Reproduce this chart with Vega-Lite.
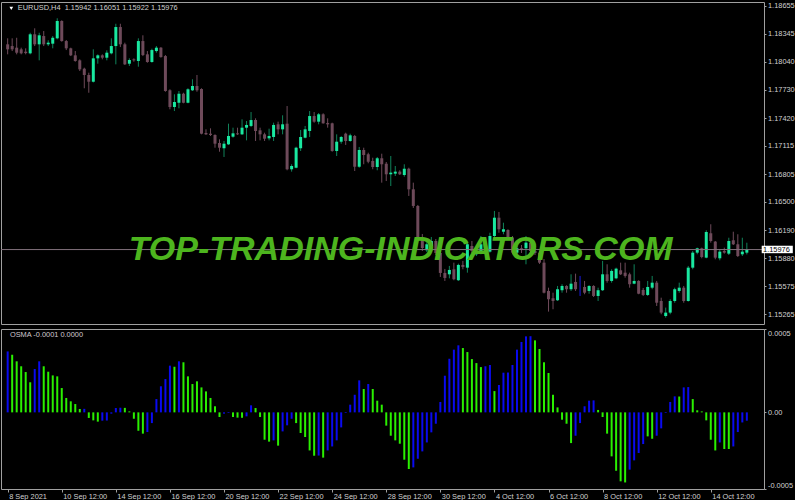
{
"$schema": "https://vega.github.io/schema/vega-lite/v6.json",
"background": "#000000",
"padding": {"top": 1, "left": 0, "right": 0, "bottom": 0},
"spacing": 3,
"config": {"view": {"stroke": "#A0A0A0", "strokeWidth": 1}, "axis": {"grid": false, "domain": false, "labelOverlap": false, "labelBound": false}, "font": "Liberation Sans"},
"data": {"values": [
{"i":0,"o":1.18231,"h":1.18297,"l":1.18121,"c":1.18176,"v":0.000381,"d":"u"},
{"i":1,"o":1.18212,"h":1.18297,"l":1.18157,"c":1.18176,"v":0.000360,"d":"d"},
{"i":2,"o":1.18194,"h":1.18303,"l":1.18121,"c":1.18139,"v":0.000319,"d":"d"},
{"i":3,"o":1.18176,"h":1.18194,"l":1.18121,"c":1.18132,"v":0.000288,"d":"d"},
{"i":4,"o":1.18150,"h":1.18187,"l":1.18121,"c":1.18135,"v":0.000252,"d":"d"},
{"i":5,"o":1.18132,"h":1.18358,"l":1.18121,"c":1.18341,"v":0.000188,"d":"d"},
{"i":6,"o":1.18341,"h":1.18407,"l":1.18212,"c":1.18231,"v":0.000271,"d":"u"},
{"i":7,"o":1.18231,"h":1.18358,"l":1.18055,"c":1.18330,"v":0.000319,"d":"u"},
{"i":8,"o":1.18322,"h":1.18377,"l":1.18212,"c":1.18231,"v":0.000288,"d":"d"},
{"i":9,"o":1.18231,"h":1.18275,"l":1.18212,"c":1.18249,"v":0.000254,"d":"d"},
{"i":10,"o":1.18238,"h":1.18322,"l":1.18187,"c":1.18303,"v":0.000231,"d":"d"},
{"i":11,"o":1.18297,"h":1.18517,"l":1.18286,"c":1.18487,"v":0.000225,"d":"d"},
{"i":12,"o":1.18487,"h":1.18495,"l":1.18260,"c":1.18267,"v":0.000152,"d":"d"},
{"i":13,"o":1.18267,"h":1.18278,"l":1.18168,"c":1.18187,"v":0.000090,"d":"d"},
{"i":14,"o":1.18187,"h":1.18194,"l":1.18102,"c":1.18110,"v":0.000069,"d":"d"},
{"i":15,"o":1.18110,"h":1.18157,"l":1.18040,"c":1.18048,"v":0.000052,"d":"d"},
{"i":16,"o":1.18055,"h":1.18066,"l":1.17938,"c":1.17956,"v":0.000021,"d":"d"},
{"i":17,"o":1.17963,"h":1.17974,"l":1.17748,"c":1.17894,"v":0.000022,"d":"u"},
{"i":18,"o":1.17894,"h":1.17919,"l":1.17699,"c":1.17820,"v":-0.000035,"d":"d"},
{"i":19,"o":1.17820,"h":1.18176,"l":1.17812,"c":1.18077,"v":-0.000050,"d":"d"},
{"i":20,"o":1.18077,"h":1.18121,"l":1.18018,"c":1.18110,"v":-0.000058,"d":"d"},
{"i":21,"o":1.18110,"h":1.18121,"l":1.18066,"c":1.18084,"v":-0.000052,"d":"u"},
{"i":22,"o":1.18084,"h":1.18165,"l":1.18055,"c":1.18139,"v":-0.000051,"d":"u"},
{"i":23,"o":1.18132,"h":1.18297,"l":1.18121,"c":1.18212,"v":-0.000008,"d":"u"},
{"i":24,"o":1.18212,"h":1.18457,"l":1.18011,"c":1.18421,"v":0.000027,"d":"u"},
{"i":25,"o":1.18421,"h":1.18457,"l":1.18201,"c":1.18231,"v":0.000029,"d":"u"},
{"i":26,"o":1.18231,"h":1.18249,"l":1.18004,"c":1.18011,"v":0.000028,"d":"d"},
{"i":27,"o":1.18018,"h":1.18077,"l":1.17993,"c":1.18059,"v":0.000006,"d":"d"},
{"i":28,"o":1.18066,"h":1.18077,"l":1.18040,"c":1.18055,"v":-0.000040,"d":"d"},
{"i":29,"o":1.18048,"h":1.18297,"l":1.17985,"c":1.18267,"v":-0.000115,"d":"d"},
{"i":30,"o":1.18267,"h":1.18330,"l":1.18102,"c":1.18113,"v":-0.000133,"d":"d"},
{"i":31,"o":1.18121,"h":1.18157,"l":1.18029,"c":1.18037,"v":-0.000123,"d":"u"},
{"i":32,"o":1.18037,"h":1.18183,"l":1.18029,"c":1.18168,"v":-0.000067,"d":"u"},
{"i":33,"o":1.18157,"h":1.18212,"l":1.18139,"c":1.18194,"v":0.000083,"d":"u"},
{"i":34,"o":1.18194,"h":1.18201,"l":1.18084,"c":1.18091,"v":0.000163,"d":"u"},
{"i":35,"o":1.18102,"h":1.18113,"l":1.17710,"c":1.17718,"v":0.000208,"d":"u"},
{"i":36,"o":1.17726,"h":1.17737,"l":1.17517,"c":1.17542,"v":0.000292,"d":"u"},
{"i":37,"o":1.17542,"h":1.17682,"l":1.17498,"c":1.17597,"v":0.000285,"d":"d"},
{"i":38,"o":1.17589,"h":1.17718,"l":1.17528,"c":1.17688,"v":0.000319,"d":"u"},
{"i":39,"o":1.17688,"h":1.17699,"l":1.17583,"c":1.17589,"v":0.000313,"d":"d"},
{"i":40,"o":1.17589,"h":1.17748,"l":1.17583,"c":1.17737,"v":0.000225,"d":"d"},
{"i":41,"o":1.17726,"h":1.17847,"l":1.17718,"c":1.17773,"v":0.000177,"d":"d"},
{"i":42,"o":1.17773,"h":1.17894,"l":1.17710,"c":1.17726,"v":0.000194,"d":"d"},
{"i":43,"o":1.17740,"h":1.17748,"l":1.17242,"c":1.17249,"v":0.000156,"d":"d"},
{"i":44,"o":1.17257,"h":1.17297,"l":1.17235,"c":1.17242,"v":0.000131,"d":"d"},
{"i":45,"o":1.17249,"h":1.17308,"l":1.17224,"c":1.17235,"v":0.000090,"d":"d"},
{"i":46,"o":1.17235,"h":1.17242,"l":1.17095,"c":1.17139,"v":0.000038,"d":"d"},
{"i":47,"o":1.17147,"h":1.17187,"l":1.17051,"c":1.17095,"v":-0.000029,"d":"d"},
{"i":48,"o":1.17089,"h":1.17169,"l":1.16993,"c":1.17139,"v":-0.000008,"d":"u"},
{"i":49,"o":1.17132,"h":1.17359,"l":1.17125,"c":1.17224,"v":-0.000004,"d":"u"},
{"i":50,"o":1.17216,"h":1.17315,"l":1.17205,"c":1.17253,"v":-0.000029,"d":"d"},
{"i":51,"o":1.17253,"h":1.17315,"l":1.17235,"c":1.17242,"v":-0.000033,"d":"d"},
{"i":52,"o":1.17242,"h":1.17407,"l":1.17235,"c":1.17315,"v":-0.000034,"d":"d"},
{"i":53,"o":1.17315,"h":1.17388,"l":1.17176,"c":1.17345,"v":-0.000025,"d":"u"},
{"i":54,"o":1.17334,"h":1.17487,"l":1.17322,"c":1.17399,"v":0.000044,"d":"u"},
{"i":55,"o":1.17399,"h":1.17418,"l":1.17169,"c":1.17279,"v":0.000027,"d":"d"},
{"i":56,"o":1.17286,"h":1.17315,"l":1.17176,"c":1.17242,"v":-0.000029,"d":"d"},
{"i":57,"o":1.17242,"h":1.17260,"l":1.17169,"c":1.17194,"v":-0.000171,"d":"d"},
{"i":58,"o":1.17198,"h":1.17304,"l":1.17176,"c":1.17224,"v":-0.000183,"d":"d"},
{"i":59,"o":1.17213,"h":1.17370,"l":1.17169,"c":1.17345,"v":-0.000175,"d":"u"},
{"i":60,"o":1.17352,"h":1.17381,"l":1.17242,"c":1.17297,"v":-0.000208,"d":"d"},
{"i":61,"o":1.17297,"h":1.17451,"l":1.17242,"c":1.17352,"v":-0.000119,"d":"u"},
{"i":62,"o":1.17359,"h":1.17553,"l":1.16847,"c":1.16858,"v":-0.000081,"d":"u"},
{"i":63,"o":1.16858,"h":1.16913,"l":1.16832,"c":1.16894,"v":-0.000040,"d":"u"},
{"i":64,"o":1.16875,"h":1.17106,"l":1.16869,"c":1.17095,"v":-0.000067,"d":"d"},
{"i":65,"o":1.17089,"h":1.17290,"l":1.17059,"c":1.17213,"v":-0.000129,"d":"d"},
{"i":66,"o":1.17205,"h":1.17334,"l":1.17198,"c":1.17297,"v":-0.000154,"d":"d"},
{"i":67,"o":1.17279,"h":1.17498,"l":1.17213,"c":1.17443,"v":-0.000238,"d":"d"},
{"i":68,"o":1.17443,"h":1.17487,"l":1.17370,"c":1.17381,"v":-0.000271,"d":"d"},
{"i":69,"o":1.17381,"h":1.17476,"l":1.17352,"c":1.17462,"v":-0.000270,"d":"u"},
{"i":70,"o":1.17462,"h":1.17473,"l":1.17359,"c":1.17363,"v":-0.000283,"d":"d"},
{"i":71,"o":1.17366,"h":1.17418,"l":1.17315,"c":1.17352,"v":-0.000238,"d":"u"},
{"i":72,"o":1.17363,"h":1.17370,"l":1.17051,"c":1.17059,"v":-0.000213,"d":"u"},
{"i":73,"o":1.17059,"h":1.17242,"l":1.17004,"c":1.17161,"v":-0.000175,"d":"u"},
{"i":74,"o":1.17161,"h":1.17224,"l":1.17139,"c":1.17213,"v":-0.000094,"d":"u"},
{"i":75,"o":1.17249,"h":1.17260,"l":1.17125,"c":1.17169,"v":-0.000004,"d":"u"},
{"i":76,"o":1.17169,"h":1.17249,"l":1.17161,"c":1.17231,"v":0.000048,"d":"u"},
{"i":77,"o":1.17224,"h":1.17235,"l":1.16839,"c":1.16886,"v":0.000110,"d":"u"},
{"i":78,"o":1.16886,"h":1.17103,"l":1.16875,"c":1.17070,"v":0.000200,"d":"u"},
{"i":79,"o":1.17070,"h":1.17095,"l":1.16913,"c":1.17015,"v":0.000146,"d":"d"},
{"i":80,"o":1.17023,"h":1.17040,"l":1.16924,"c":1.16941,"v":0.000177,"d":"u"},
{"i":81,"o":1.16949,"h":1.16985,"l":1.16858,"c":1.16883,"v":0.000146,"d":"d"},
{"i":82,"o":1.16883,"h":1.16993,"l":1.16847,"c":1.16979,"v":0.000073,"d":"d"},
{"i":83,"o":1.16979,"h":1.17029,"l":1.16711,"c":1.16913,"v":0.000048,"d":"d"},
{"i":84,"o":1.16919,"h":1.16938,"l":1.16729,"c":1.16803,"v":-0.000083,"d":"d"},
{"i":85,"o":1.16803,"h":1.17004,"l":1.16674,"c":1.16821,"v":-0.000146,"d":"d"},
{"i":86,"o":1.16810,"h":1.16894,"l":1.16784,"c":1.16832,"v":-0.000175,"d":"d"},
{"i":87,"o":1.16832,"h":1.16847,"l":1.16795,"c":1.16803,"v":-0.000196,"d":"d"},
{"i":88,"o":1.16795,"h":1.16913,"l":1.16777,"c":1.16864,"v":-0.000296,"d":"d"},
{"i":89,"o":1.16864,"h":1.16875,"l":1.16565,"c":1.16638,"v":-0.000354,"d":"d"},
{"i":90,"o":1.16638,"h":1.16711,"l":1.16433,"c":1.16455,"v":-0.000344,"d":"u"},
{"i":91,"o":1.16455,"h":1.16466,"l":1.16092,"c":1.16107,"v":-0.000290,"d":"u"},
{"i":92,"o":1.16107,"h":1.16147,"l":1.15960,"c":1.15993,"v":-0.000244,"d":"u"},
{"i":93,"o":1.15968,"h":1.16059,"l":1.15949,"c":1.16034,"v":-0.000188,"d":"u"},
{"i":94,"o":1.16015,"h":1.16114,"l":1.15993,"c":1.16070,"v":-0.000125,"d":"u"},
{"i":95,"o":1.16070,"h":1.16092,"l":1.15916,"c":1.15938,"v":-0.000071,"d":"u"},
{"i":96,"o":1.15938,"h":1.15960,"l":1.15675,"c":1.15719,"v":0.000065,"d":"u"},
{"i":97,"o":1.15719,"h":1.15763,"l":1.15631,"c":1.15664,"v":0.000229,"d":"u"},
{"i":98,"o":1.15704,"h":1.15796,"l":1.15660,"c":1.15752,"v":0.000335,"d":"u"},
{"i":99,"o":1.15759,"h":1.15832,"l":1.15639,"c":1.15650,"v":0.000392,"d":"u"},
{"i":100,"o":1.15639,"h":1.15821,"l":1.15631,"c":1.15807,"v":0.000419,"d":"u"},
{"i":101,"o":1.15807,"h":1.15851,"l":1.15759,"c":1.15785,"v":0.000402,"d":"d"},
{"i":102,"o":1.15777,"h":1.16052,"l":1.15722,"c":1.16034,"v":0.000377,"d":"d"},
{"i":103,"o":1.16015,"h":1.16070,"l":1.15938,"c":1.15960,"v":0.000333,"d":"d"},
{"i":104,"o":1.15924,"h":1.16004,"l":1.15905,"c":1.15960,"v":0.000308,"d":"d"},
{"i":105,"o":1.15942,"h":1.16125,"l":1.15924,"c":1.16034,"v":0.000283,"d":"d"},
{"i":106,"o":1.16015,"h":1.16070,"l":1.15993,"c":1.16034,"v":0.000288,"d":"u"},
{"i":107,"o":1.15953,"h":1.16161,"l":1.15942,"c":1.16125,"v":0.000296,"d":"u"},
{"i":108,"o":1.16125,"h":1.16400,"l":1.16114,"c":1.16326,"v":0.000133,"d":"d"},
{"i":109,"o":1.16326,"h":1.16389,"l":1.16161,"c":1.16199,"v":0.000171,"d":"u"},
{"i":110,"o":1.16172,"h":1.16271,"l":1.16144,"c":1.16199,"v":0.000248,"d":"u"},
{"i":111,"o":1.16191,"h":1.16199,"l":1.16089,"c":1.16107,"v":0.000249,"d":"u"},
{"i":112,"o":1.16107,"h":1.16125,"l":1.15924,"c":1.15942,"v":0.000296,"d":"u"},
{"i":113,"o":1.15942,"h":1.16015,"l":1.15924,"c":1.15990,"v":0.000392,"d":"u"},
{"i":114,"o":1.15990,"h":1.16026,"l":1.15938,"c":1.15971,"v":0.000440,"d":"u"},
{"i":115,"o":1.15990,"h":1.16125,"l":1.15814,"c":1.16052,"v":0.000475,"d":"u"},
{"i":116,"o":1.16052,"h":1.16070,"l":1.15938,"c":1.15960,"v":0.000476,"d":"u"},
{"i":117,"o":1.15960,"h":1.15993,"l":1.15916,"c":1.15938,"v":0.000450,"d":"d"},
{"i":118,"o":1.15942,"h":1.15960,"l":1.15818,"c":1.15832,"v":0.000396,"d":"d"},
{"i":119,"o":1.15832,"h":1.15872,"l":1.15494,"c":1.15502,"v":0.000313,"d":"d"},
{"i":120,"o":1.15521,"h":1.15557,"l":1.15294,"c":1.15430,"v":0.000246,"d":"d"},
{"i":121,"o":1.15441,"h":1.15502,"l":1.15320,"c":1.15411,"v":0.000110,"d":"d"},
{"i":122,"o":1.15419,"h":1.15576,"l":1.15411,"c":1.15540,"v":0.000031,"d":"d"},
{"i":123,"o":1.15529,"h":1.15595,"l":1.15502,"c":1.15576,"v":-0.000046,"d":"d"},
{"i":124,"o":1.15576,"h":1.15584,"l":1.15502,"c":1.15540,"v":-0.000071,"d":"d"},
{"i":125,"o":1.15540,"h":1.15704,"l":1.15521,"c":1.15601,"v":-0.000192,"d":"d"},
{"i":126,"o":1.15620,"h":1.15711,"l":1.15521,"c":1.15540,"v":-0.000146,"d":"u"},
{"i":127,"o":1.15554,"h":1.15686,"l":1.15466,"c":1.15554,"v":-0.000067,"d":"u"},
{"i":128,"o":1.15565,"h":1.15631,"l":1.15485,"c":1.15502,"v":0.000038,"d":"u"},
{"i":129,"o":1.15521,"h":1.15584,"l":1.15491,"c":1.15576,"v":0.000073,"d":"u"},
{"i":130,"o":1.15576,"h":1.15584,"l":1.15455,"c":1.15466,"v":0.000075,"d":"u"},
{"i":131,"o":1.15466,"h":1.15557,"l":1.15411,"c":1.15529,"v":0.000015,"d":"d"},
{"i":132,"o":1.15529,"h":1.15851,"l":1.15521,"c":1.15704,"v":-0.000029,"d":"d"},
{"i":133,"o":1.15704,"h":1.15814,"l":1.15612,"c":1.15631,"v":-0.000133,"d":"d"},
{"i":134,"o":1.15631,"h":1.15759,"l":1.15612,"c":1.15741,"v":-0.000275,"d":"d"},
{"i":135,"o":1.15660,"h":1.15777,"l":1.15650,"c":1.15766,"v":-0.000365,"d":"d"},
{"i":136,"o":1.15748,"h":1.15832,"l":1.15697,"c":1.15704,"v":-0.000431,"d":"d"},
{"i":137,"o":1.15722,"h":1.15832,"l":1.15667,"c":1.15686,"v":-0.000438,"d":"d"},
{"i":138,"o":1.15704,"h":1.15722,"l":1.15557,"c":1.15595,"v":-0.000358,"d":"u"},
{"i":139,"o":1.15601,"h":1.15814,"l":1.15595,"c":1.15631,"v":-0.000300,"d":"u"},
{"i":140,"o":1.15631,"h":1.15639,"l":1.15485,"c":1.15491,"v":-0.000254,"d":"u"},
{"i":141,"o":1.15532,"h":1.15554,"l":1.15466,"c":1.15477,"v":-0.000198,"d":"u"},
{"i":142,"o":1.15477,"h":1.15631,"l":1.15466,"c":1.15565,"v":-0.000150,"d":"d"},
{"i":143,"o":1.15557,"h":1.15686,"l":1.15540,"c":1.15612,"v":-0.000165,"d":"d"},
{"i":144,"o":1.15612,"h":1.15631,"l":1.15356,"c":1.15392,"v":-0.000146,"d":"u"},
{"i":145,"o":1.15411,"h":1.15447,"l":1.15265,"c":1.15283,"v":-0.000100,"d":"u"},
{"i":146,"o":1.15246,"h":1.15338,"l":1.15228,"c":1.15283,"v":-0.000004,"d":"u"},
{"i":147,"o":1.15283,"h":1.15430,"l":1.15265,"c":1.15411,"v":0.000065,"d":"u"},
{"i":148,"o":1.15411,"h":1.15557,"l":1.15392,"c":1.15540,"v":0.000100,"d":"u"},
{"i":149,"o":1.15521,"h":1.15612,"l":1.15502,"c":1.15557,"v":0.000099,"d":"d"},
{"i":150,"o":1.15557,"h":1.15576,"l":1.15392,"c":1.15411,"v":0.000156,"d":"u"},
{"i":151,"o":1.15411,"h":1.15796,"l":1.15404,"c":1.15777,"v":0.000158,"d":"u"},
{"i":152,"o":1.15777,"h":1.15960,"l":1.15759,"c":1.15942,"v":0.000083,"d":"d"},
{"i":153,"o":1.15942,"h":1.15997,"l":1.15924,"c":1.15990,"v":0.000013,"d":"d"},
{"i":154,"o":1.15990,"h":1.15997,"l":1.15880,"c":1.15894,"v":0.000006,"d":"d"},
{"i":155,"o":1.15887,"h":1.16188,"l":1.15880,"c":1.16169,"v":-0.000050,"d":"d"},
{"i":156,"o":1.16155,"h":1.16254,"l":1.16052,"c":1.16070,"v":-0.000171,"d":"d"},
{"i":157,"o":1.16063,"h":1.16070,"l":1.15869,"c":1.15887,"v":-0.000238,"d":"d"},
{"i":158,"o":1.15880,"h":1.15979,"l":1.15858,"c":1.15953,"v":-0.000188,"d":"u"},
{"i":159,"o":1.15960,"h":1.15997,"l":1.15931,"c":1.15942,"v":-0.000229,"d":"d"},
{"i":160,"o":1.15931,"h":1.16106,"l":1.15916,"c":1.16070,"v":-0.000229,"d":"d"},
{"i":161,"o":1.16078,"h":1.16172,"l":1.16026,"c":1.16034,"v":-0.000213,"d":"u"},
{"i":162,"o":1.16034,"h":1.16144,"l":1.15894,"c":1.15905,"v":-0.000123,"d":"u"},
{"i":163,"o":1.15924,"h":1.16106,"l":1.15905,"c":1.15953,"v":-0.000063,"d":"u"},
{"i":164,"o":1.15942,"h":1.16051,"l":1.15922,"c":1.15976,"v":-0.000052,"d":"u"}
]},
"vconcat": [
{
 "width": 763, "height": 322,
 "layer": [
  {"mark": {"type": "rule", "strokeWidth": 1},
   "encoding": {
    "x": {"field": "i", "type": "quantitative", "scale": {"domain": [-0.37, 166.7], "nice": false, "zero": false}, "axis": null},
    "y": {"field": "l", "type": "quantitative", "scale": {"domain": [1.15158, 1.18696], "nice": false, "zero": false},
      "axis": {"orient": "right", "title": null, "tickCount": 30, "values": [1.18655, 1.18345, 1.1804, 1.1773, 1.1742, 1.17115, 1.16805, 1.165, 1.1619, 1.1588, 1.15575, 1.15265], "format": ".5f", "tickSize": 2, "tickColor": "#A0A0A0", "labelPadding": 1.5, "labelColor": "#D0D0D0", "labelFontSize": 7.4, "labelFont": "Liberation Sans", "labelOverlap": false, "labelBound": false, "labelFlush": false}},
    "y2": {"field": "h"},
    "color": {"condition": [{"test": "datum.c == datum.o", "value": "#1A1AE6"}, {"test": "datum.c > datum.o", "value": "#10825A"}], "value": "#6E4A5A"}
   }},
  {"mark": {"type": "bar", "size": 3},
   "encoding": {
    "x": {"field": "i", "type": "quantitative"},
    "y": {"field": "o", "type": "quantitative"},
    "y2": {"field": "c"},
    "color": {"condition": [{"test": "datum.c == datum.o", "value": "#1A1AE6"}, {"test": "datum.c > datum.o", "value": "#19E8A0"}], "value": "#6E4A5A"}
   }},
  {"data": {"values": [{}]},
   "mark": {"type": "rule", "color": "#80707A", "strokeWidth": 1},
   "encoding": {"y": {"datum": 1.15976}}},
  {"data": {"values": [{}]},
   "mark": {"type": "text", "text": "TOP-TRADING-INDICATORS.COM", "font": "Liberation Sans", "fontSize": 34, "fontWeight": "bold", "fontStyle": "italic", "color": "#4DB51E", "align": "center", "baseline": "middle"},
   "encoding": {"x": {"datum": 87.2}, "y": {"datum": 1.15976}}},
  {"data": {"values": [{}]},
   "mark": {"type": "point", "shape": "triangle-down", "filled": true, "size": 14, "color": "#FFFFFF", "opacity": 1},
   "encoding": {"x": {"datum": 0.8}, "y": {"datum": 1.18626}}},
  {"data": {"values": [{}]},
   "mark": {"type": "text", "text": "EURUSD,H4\u00a0\u00a01.15942 1.16051 1.15922 1.15976", "font": "Liberation Sans", "fontSize": 7.4, "color": "#D0D0D0", "align": "left", "baseline": "middle"},
   "encoding": {"x": {"datum": 2.26}, "y": {"datum": 1.1863}}},
  {"data": {"values": [{}]},
   "mark": {"type": "rect", "color": "#FFFFFF"},
   "encoding": {"x": {"datum": 167.3}, "x2": {"datum": 174.2}, "y": {"datum": 1.16018}, "y2": {"datum": 1.15936}}},
  {"data": {"values": [{}]},
   "mark": {"type": "text", "text": "1.15976", "font": "Liberation Sans", "fontSize": 7.4, "color": "#000000", "align": "left", "baseline": "middle"},
   "encoding": {"x": {"datum": 167.6}, "y": {"datum": 1.15976}}}
 ]
},
{
 "width": 763, "height": 160,
 "layer": [
  {"mark": {"type": "bar", "size": 2},
   "encoding": {
    "x": {"field": "i", "type": "quantitative", "scale": {"domain": [-0.37, 166.7], "nice": false, "zero": false},
      "axis": {"orient": "bottom", "title": null, "tickCount": 30, "values": [0, 12, 24, 36, 48, 60, 72, 84, 96, 108, 120, 132, 144, 156],
        "labelExpr": "['8 Sep 2021','10 Sep 12:00','14 Sep 12:00','16 Sep 12:00','20 Sep 12:00','22 Sep 12:00','24 Sep 12:00','28 Sep 12:00','30 Sep 12:00','4 Oct 12:00','6 Oct 12:00','8 Oct 12:00','12 Oct 12:00','14 Oct 12:00'][round(datum.value/12)]",
        "labelAlign": "left", "labelBaseline": "top", "labelPadding": 0, "labelOffset": 1, "tickSize": 3, "tickColor": "#A0A0A0", "labelColor": "#D0D0D0", "labelFontSize": 7.4, "labelFont": "Liberation Sans", "labelOverlap": false, "labelBound": false, "labelFlush": false}},
    "y": {"field": "v", "type": "quantitative", "scale": {"domain": [-0.000479, 0.000521], "nice": false, "zero": false},
      "axis": {"orient": "right", "title": null, "tickCount": 10, "values": [0.000521, 0, -0.000479], "labelExpr": "datum.value > 0.0001 ? '0.0005' : (datum.value < -0.0001 ? '-0.0005' : '0.00')", "labelFlush": true, "labelFlushOffset": 0, "tickSize": 2, "tickColor": "#A0A0A0", "labelPadding": 1.5, "labelColor": "#D0D0D0", "labelFontSize": 7.4, "labelFont": "Liberation Sans", "labelOverlap": false, "labelBound": false}},
    "y2": {"datum": 0},
    "color": {"field": "d", "type": "nominal", "scale": {"domain": ["u", "d"], "range": ["#0A0AF0", "#2AF000"]}, "legend": null}
   }},
  {"data": {"values": [{}]},
   "mark": {"type": "text", "text": "OSMA -0.0001 0.0000", "font": "Liberation Sans", "fontSize": 7.4, "color": "#D0C8D0", "align": "left", "baseline": "middle"},
   "encoding": {"x": {"datum": 0.5}, "y": {"datum": 0.000483}}}
 ]
}
]
}
